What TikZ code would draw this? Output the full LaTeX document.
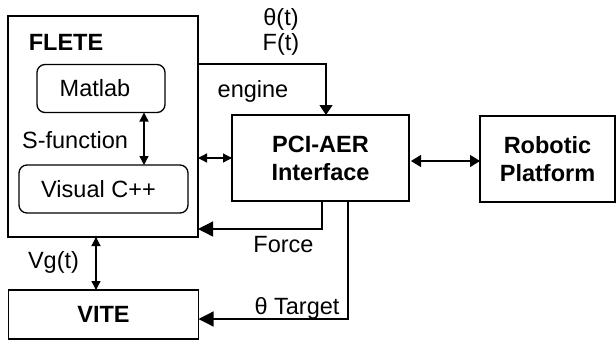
\documentclass[tikz,border=0pt]{standalone}
\usepackage{fontspec}
\setmainfont{Liberation Sans}
\usetikzlibrary{arrows.meta}
\begin{document}
\begin{tikzpicture}[x=1bp,y=-1bp,
  every node/.style={font=\fontsize{23.5bp}{28bp}\selectfont, inner sep=0pt, outer sep=0pt},
  blk/.style={draw, line width=1.9bp, align=center, font=\fontsize{23.5bp}{28bp}\selectfont\bfseries},
  rbox/.style={draw, line width=1.3bp, rounded corners=8bp},
  lbl/.style={anchor=base},
  conn/.style={line width=1.3bp},
  arr/.style={conn, -{Triangle[length=15bp,width=15bp]}},
  arrs/.style={conn, -{Triangle[length=10bp,width=13bp]}},
  darr/.style={conn, {Triangle[length=9bp,width=9bp]}-{Triangle[length=9bp,width=9bp]}},
  darrb/.style={conn, {Triangle[length=10bp,width=12bp]}-{Triangle[length=10bp,width=12bp]}},
]
\useasboundingbox (0,0) rectangle (616,341);
% boxes
\node[blk, minimum width=190bp, minimum height=221bp] (flete) at (103,126.5) {};
\node[font=\fontsize{23.5bp}{28bp}\selectfont\bfseries, lbl] (fletet) at (66,50) {FLETE};
\node[rbox, minimum width=128bp, minimum height=48bp] (matlab) at (101,88.5) {};
\node (matlabt) at (95,88.5) {Matlab};
\node[rbox, minimum width=169bp, minimum height=48bp] (visual) at (103.5,189) {};
\node (visualt) at (98.5,189) {Visual C++};
\node[lbl] (sfun) at (75,148) {S-function};
\node[blk, minimum width=177bp, minimum height=86bp] (pci) at (320.5,158) {PCI-AER\\Interface};
\node[blk, minimum width=135bp, minimum height=86bp] (robot) at (547.5,159) {Robotic\\Platform};
\node[blk, minimum width=190bp, minimum height=49bp] (vite) at (103.5,314.5) {VITE};
% coordinates
\coordinate (s1) at (144,100);
\coordinate (e) at (326,64);
\coordinate (f) at (322,229);
\coordinate (t) at (348,319);
\coordinate (v) at (96,260);
\coordinate (r) at (450,161);
% connectors
\draw[darr] (matlab.south -| s1) -- (visual.north -| s1);
\draw[darr] (pci.west -| flete.east) -- (pci.west);
\draw[darrb, shorten <=2bp] (pci.east |- r) -- (robot.west |- r);
\draw[arrs] (flete.east |- e) -- (e) -- (pci.north -| e);
\draw[arr] (pci.south -| f) -- (f) -- (flete.east |- f);
\draw[arr] (pci.south -| t) -- (t) -- (vite.east |- t);
\draw[darr] (flete.south -| v) -- (vite.north -| v);
% labels
\node[lbl] (theta) at (281,25) {θ(t)};
\node[lbl] (ft) at (281,50) {F(t)};
\node[lbl] (eng) at (253,97) {engine};
\node[lbl] (force) at (283.5,252) {Force};
\node[lbl] (target) at (297,314) {θ Target};
\node[lbl] (vg) at (53.5,268) {Vg(t)};
\end{tikzpicture}
\end{document}
